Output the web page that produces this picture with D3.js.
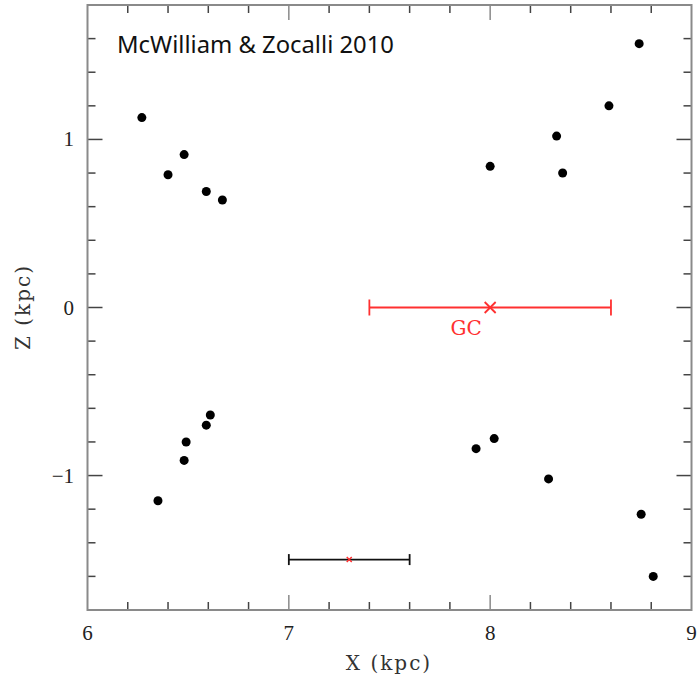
<!DOCTYPE html>
<html>
<head>
<meta charset="utf-8">
<script src="https://cdn.jsdelivr.net/npm/d3@7"></script>
<style>
  html, body { margin: 0; padding: 0; background: #fff; }
  svg { display: block; }
</style>
</head>
<body>
<script>
// Star field positions (X, Z in kpc)
const starX = [6.27, 6.48, 6.40, 6.59, 6.67,
               8.74, 8.59, 8.33, 8.00, 8.36,
               6.61, 6.59, 6.49, 6.48, 6.35,
               7.93, 8.02, 8.29, 8.75, 8.81];
const starZ = [1.13, 0.91, 0.79, 0.69, 0.64,
               1.57, 1.20, 1.02, 0.84, 0.80,
               -0.64, -0.70, -0.80, -0.91, -1.15,
               -0.84, -0.78, -1.02, -1.23, -1.60];

// Galactic centre and its distance uncertainty
const gcX = 8.0, gcZ = 0.0, gcErr = 0.6, gcLabel = "GC";
// Reference error bar
const refX = 7.3, refZ = -1.5, refErr = 0.3;

const xDomain = [6, 9], zDomain = [-1.8, 1.8];
const xMajor = [6, 7, 8, 9], zMajor = [-1, 0, 1];
const xTickLabels = ["6", "7", "8", "9"], zTickLabels = ["\u22121", "0", "1"];
const titleText = "McWilliam & Zocalli 2010";
const xLabel = "X (kpc)", zLabel = "Z (kpc)";

const W = 698, H = 678;
const L = 87.5, R = 691.5, T = 5, B = 610;

const svg = d3.select("body").append("svg").attr("width", W).attr("height", H);
const x = d3.scaleLinear().domain(xDomain).range([L, R]);
const y = d3.scaleLinear().domain(zDomain).range([B, T]);

const xMinor = d3.range(6, 9.0001, 0.2).map(v => +v.toFixed(1));
const zMinor = d3.range(-1.8, 1.8001, 0.2).map(v => +v.toFixed(1));
const isMajor = v => Math.abs(v - Math.round(v)) < 1e-6;

const tickColor = "#444", frameColor = "#8a8a8a";
const g = svg.append("g");

// tick marks on all four sides, pointing inward
function ticksX(yPos, dir) {
  g.selectAll(null).data(xMinor.filter(v => v > 6 && v < 9)).enter().append("line")
    .attr("x1", d => x(d)).attr("x2", d => x(d))
    .attr("y1", yPos).attr("y2", d => yPos + dir * (isMajor(d) ? 15 : 8))
    .attr("stroke", d => isMajor(d) ? frameColor : tickColor).attr("stroke-width", 1.5);
}
function ticksZ(xPos, dir) {
  g.selectAll(null).data(zMinor.filter(v => v > -1.8 && v < 1.8)).enter().append("line")
    .attr("y1", d => y(d)).attr("y2", d => y(d))
    .attr("x1", xPos).attr("x2", d => xPos + dir * (isMajor(d) ? 15 : 8))
    .attr("stroke", tickColor).attr("stroke-width", 1.5);
}
ticksX(B, -1); ticksX(T, 1); ticksZ(L, 1); ticksZ(R, -1);

// frame
g.append("rect").attr("x", L).attr("y", T).attr("width", R - L).attr("height", B - T)
  .attr("fill", "none").attr("stroke", frameColor).attr("stroke-width", 2);

// tick labels
const serif = "'Liberation Serif', 'DejaVu Serif', serif";
g.selectAll(null).data(xMajor).enter().append("text")
  .attr("x", d => x(d)).attr("y", 640)
  .attr("text-anchor", "middle").attr("font-family", serif).attr("font-size", 21)
  .attr("fill", "#222").text((d, i) => xTickLabels[i]);
g.selectAll(null).data(zMajor).enter().append("text")
  .attr("x", 74).attr("y", d => y(d) + 7)
  .attr("text-anchor", "end").attr("font-family", serif).attr("font-size", 21)
  .attr("fill", "#222").text((d, i) => zTickLabels[i]);

// axis titles
const wideSerif = "'DejaVu Serif', serif";
g.append("text").attr("x", 389).attr("y", 670).attr("text-anchor", "middle")
  .attr("font-family", wideSerif).attr("font-size", 20).attr("letter-spacing", 2)
  .attr("fill", "#333").text(xLabel);
g.append("text").attr("transform", `translate(30,307) rotate(-90)`).attr("text-anchor", "middle")
  .attr("font-family", wideSerif).attr("font-size", 20).attr("letter-spacing", 2)
  .attr("fill", "#333").text(zLabel);

// stars
g.selectAll("circle.star").data(starX.map((v, i) => [v, starZ[i]])).enter().append("circle")
  .attr("class", "star").attr("cx", d => x(d[0])).attr("cy", d => y(d[1])).attr("r", 4.5)
  .attr("fill", "#000");

// error bar helper
function errBar(cx, cz, err, color, cap, width) {
  const yy = y(cz);
  g.append("line").attr("x1", x(cx - err)).attr("x2", x(cx + err)).attr("y1", yy).attr("y2", yy)
    .attr("stroke", color).attr("stroke-width", width);
  [cx - err, cx + err].forEach(v => {
    g.append("line").attr("x1", x(v)).attr("x2", x(v)).attr("y1", yy - cap).attr("y2", yy + cap)
      .attr("stroke", color).attr("stroke-width", width);
  });
}
function cross(cx, cz, s, color, width) {
  const px = x(cx), py = y(cz);
  g.append("path").attr("d", `M${px - s},${py - s}L${px + s},${py + s}M${px - s},${py + s}L${px + s},${py - s}`)
    .attr("stroke", color).attr("stroke-width", width).attr("fill", "none");
}

const red = "#ff3030";
errBar(gcX, gcZ, gcErr, red, 8, 1.8);
cross(gcX, gcZ, 5.5, red, 1.8);
g.append("text").attr("x", x(gcX) - 24).attr("y", y(gcZ) + 27).attr("text-anchor", "middle")
  .attr("font-family", wideSerif).attr("font-size", 20).attr("fill", red).text(gcLabel);

errBar(refX, refZ, refErr, "#111", 5.5, 1.8);
cross(refX, refZ, 2.5, red, 1.5);

// title
g.append("text").attr("x", 117).attr("y", 53).attr("font-family", "'Noto Sans', 'Open Sans', sans-serif")
  .attr("font-size", 23.8).attr("fill", "#111").text(titleText);
</script>
</body>
</html>
